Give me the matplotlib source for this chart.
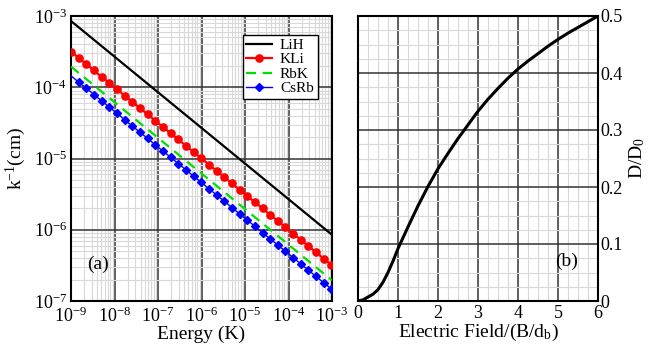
import matplotlib
matplotlib.use("Agg")
import matplotlib.pyplot as plt
from matplotlib.ticker import LogLocator, MultipleLocator, NullFormatter

plt.rcParams['font.family'] = ['Liberation Serif', 'DejaVu Serif']
plt.rcParams['mathtext.fontset'] = 'custom'
plt.rcParams['mathtext.rm'] = 'Liberation Serif'
plt.rcParams['mathtext.it'] = 'Liberation Serif:italic'
plt.rcParams['mathtext.default'] = 'regular'

# ---------------- data: panel (a) ----------------
energy = [1.0e-9, 1.5e-9, 2.25e-9, 3.38e-9, 5.06e-9, 7.59e-9, 1.14e-8, 1.71e-8,
          2.56e-8, 3.84e-8, 5.77e-8, 8.65e-8, 1.30e-7, 1.95e-7, 2.92e-7, 4.38e-7,
          6.57e-7, 9.85e-7, 1.48e-6, 2.22e-6, 3.33e-6, 4.99e-6, 7.48e-6, 1.12e-5,
          1.68e-5, 2.53e-5, 3.79e-5, 5.68e-5, 8.52e-5, 1.28e-4, 1.92e-4, 2.88e-4,
          4.31e-4, 6.47e-4, 9.71e-4]
kli = [3.16e-4, 2.58e-4, 2.11e-4, 1.72e-4, 1.40e-4, 1.15e-4, 9.36e-5, 7.64e-5,
       6.24e-5, 5.10e-5, 4.16e-5, 3.40e-5, 2.77e-5, 2.27e-5, 1.85e-5, 1.51e-5,
       1.23e-5, 1.01e-5, 8.22e-6, 6.71e-6, 5.48e-6, 4.47e-6, 3.65e-6, 2.98e-6,
       2.44e-6, 1.99e-6, 1.62e-6, 1.33e-6, 1.08e-6, 8.84e-7, 7.22e-7, 5.89e-7,
       4.81e-7, 3.93e-7, 3.21e-7]
csrb = [1.45e-4, 1.18e-4, 9.67e-5, 7.89e-5, 6.44e-5, 5.26e-5, 4.30e-5, 3.51e-5,
        2.86e-5, 2.34e-5, 1.91e-5, 1.56e-5, 1.27e-5, 1.04e-5, 8.49e-6, 6.93e-6,
        5.66e-6, 4.62e-6, 3.77e-6, 3.08e-6, 2.51e-6, 2.05e-6, 1.68e-6, 1.37e-6,
        1.12e-6, 9.13e-7, 7.45e-7, 6.08e-7, 4.97e-7, 4.06e-7, 3.31e-7, 2.70e-7,
        2.21e-7, 1.80e-7, 1.47e-7]
line_energy = [1e-9, 1e-3]
lih = [8.5e-4, 8.5e-7]
rbk = [1.95e-4, 1.95e-7]
x_ticks_a = [1e-9, 1e-8, 1e-7, 1e-6, 1e-5, 1e-4, 1e-3]
x_labels_a = ['10$^{-9}$', '10$^{-8}$', '10$^{-7}$', '10$^{-6}$', '10$^{-5}$', '10$^{-4}$', '10$^{-3}$']
y_ticks_a = [1e-7, 1e-6, 1e-5, 1e-4, 1e-3]
y_labels_a = ['10$^{-7}$', '10$^{-6}$', '10$^{-5}$', '10$^{-4}$', '10$^{-3}$']

# ---------------- data: panel (b) ----------------
field = [0.0, 0.125, 0.25, 0.375, 0.5, 0.625, 0.75, 0.875, 1.0, 1.25, 1.5, 1.75,
         2.0, 2.25, 2.5, 2.75, 3.0, 3.25, 3.5, 3.75, 4.0, 4.25, 4.5, 4.75, 5.0,
         5.25, 5.5, 5.75, 6.0]
dipole = [0.0, 0.002, 0.007, 0.012, 0.020, 0.033, 0.050, 0.070, 0.092, 0.130,
          0.167, 0.201, 0.232, 0.259, 0.285, 0.309, 0.333, 0.354, 0.373, 0.391,
          0.407, 0.421, 0.434, 0.447, 0.459, 0.470, 0.480, 0.490, 0.500]
x_ticks_b = [0, 1, 2, 3, 4, 5, 6]
y_ticks_b = [0, 0.1, 0.2, 0.3, 0.4, 0.5]
y_labels_b = ['0', '0.1', '0.2', '0.3', '0.4', '0.5']

fig = plt.figure(figsize=(6.52, 3.5), dpi=100)
axa = fig.add_axes([71/652, 1-301/350, 261/652, 285/350])
axb = fig.add_axes([358/652, 1-301/350, 240/652, 285/350])

major_grid = dict(color='#333333', linewidth=1.1)
minor_grid = dict(color='#d8d8d8', linewidth=0.8)

# ---- panel (a)
axa.set_xscale('log')
axa.set_yscale('log')
axa.set_xlim(1e-9, 1e-3)
axa.set_ylim(1e-7, 1e-3)
axa.xaxis.set_minor_locator(LogLocator(base=10, subs=range(2, 10), numticks=100))
axa.yaxis.set_minor_locator(LogLocator(base=10, subs=range(2, 10), numticks=100))
axa.xaxis.set_minor_formatter(NullFormatter())
axa.yaxis.set_minor_formatter(NullFormatter())
axa.set_xticks(x_ticks_a)
axa.set_xticklabels(x_labels_a)
axa.set_yticks(y_ticks_a)
axa.set_yticklabels(y_labels_a)
axa.grid(True, which='minor', **minor_grid)
axa.grid(True, which='major', **major_grid)
axa.set_axisbelow(True)
axa.tick_params(which='both', length=0, labelsize=13)
axa.tick_params(axis='x', pad=4)
axa.tick_params(axis='y', pad=3)

axa.plot(line_energy, lih, color='black', lw=1.6, label='LiH', zorder=3)
axa.plot(energy, kli, color='red', lw=1.6, marker='o', ms=5.2, label='KLi', zorder=3)
axa.plot(line_energy, rbk, color='#00e000', lw=1.6, ls=(0, (4.5, 3)), label='RbK', zorder=3)
axa.plot(energy, csrb, color='blue', lw=1.0, marker='D', ms=4.0, markevery=slice(1, None),
         label='CsRb', zorder=3)

leg = axa.legend(loc='upper right', bbox_to_anchor=(0.945, 0.935), fontsize=11,
                 frameon=True, fancybox=False, edgecolor='black', framealpha=1,
                 handlelength=1.7, handletextpad=0.5, borderpad=0.25, labelspacing=0.05,
                 borderaxespad=0)
leg.get_frame().set_linewidth(1.0)

axa.set_xlabel('Energy (K)', fontsize=14, labelpad=0)
axa.set_ylabel('k$^{-1}$(cm)', fontsize=14, labelpad=4)
axa.text(0.06, 0.13, '(a)', transform=axa.transAxes, fontsize=14, ha='left', va='center')
for s in axa.spines.values():
    s.set_linewidth(1.5)

# ---- panel (b)
axb.set_xlim(0, 6)
axb.set_ylim(0, 0.5)
axb.set_xticks(x_ticks_b)
axb.set_yticks(y_ticks_b)
axb.set_yticklabels(y_labels_b)
axb.xaxis.set_minor_locator(MultipleLocator(0.25))
axb.yaxis.set_minor_locator(MultipleLocator(0.025))
axb.grid(True, which='minor', **minor_grid)
axb.grid(True, which='major', **major_grid)
axb.set_axisbelow(True)
axb.yaxis.tick_right()
axb.yaxis.set_label_position('right')
axb.tick_params(which='both', length=0, labelsize=13)
axb.tick_params(axis='x', pad=3)
axb.tick_params(axis='y', pad=2)
axb.plot(field, dipole, color='black', lw=2.2, zorder=3, solid_joinstyle='round')
axb.set_xlabel('Electric Field/(B/d$_b$)', fontsize=14, labelpad=0)
axb.set_ylabel('D/D$_0$', fontsize=14, labelpad=3)
axb.text(0.87, 0.14, '(b)', transform=axb.transAxes, fontsize=14, ha='center', va='center')
for s in axb.spines.values():
    s.set_linewidth(1.5)

fig.savefig('out.png', dpi=100)
